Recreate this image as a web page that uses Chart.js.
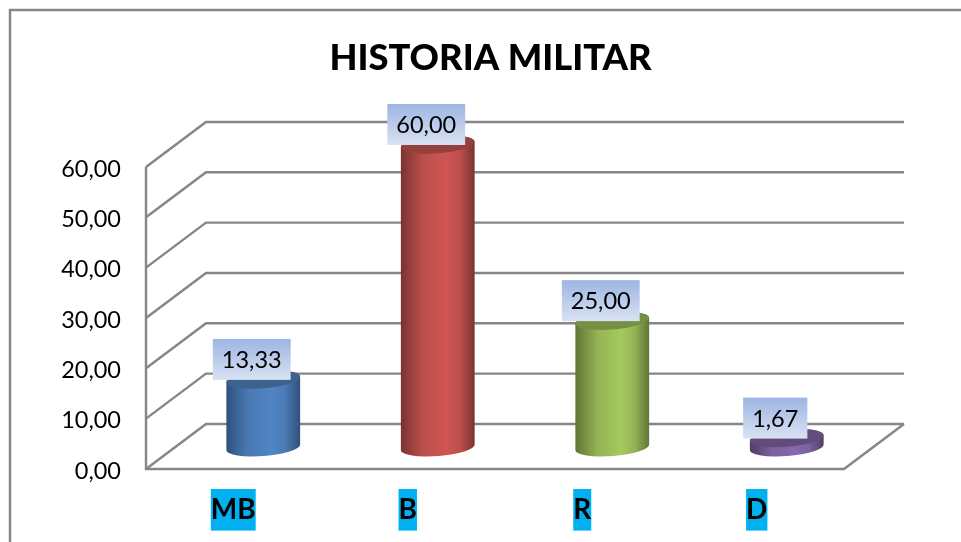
<!DOCTYPE html>
<html>
<head>
<meta charset="utf-8">
<style>html,body{margin:0;padding:0;background:#fff}#wrap{width:961px;height:542px}canvas{display:block}</style>
<script src="https://cdn.jsdelivr.net/npm/chart.js@4"></script>
</head>
<body>
<div id="wrap"><canvas id="c" width="961" height="542"></canvas></div>
<script>
const chartTitle = 'HISTORIA MILITAR';
const categories = ['MB', 'B', 'R', 'D'];
const values = [13.33, 60.00, 25.00, 1.67];
const bodyColors = ['#4A7AB4', '#BC4F4C', '#94B356', '#7C619D'];
const midColors = ['#4F85C4', '#CF5552', '#A5CA5E', '#8869AD'];
const edgeColors = ['#2F5079', '#7A3230', '#5F7634', '#4F3D65'];
const capColors = ['#3D628F', '#94403D', '#778F44', '#624C7C'];
const lineColor = '#868686';
const DEPTH_X = 60, DEPTH_Y = -45;
const fontName = 'Lato, "Open Sans", sans-serif';
const fmt = v => v.toFixed(2).replace('.', ',');

const { BarController, BarElement } = Chart;

class CylinderElement extends BarElement {
  draw(ctx) {
    const { x, y, base, width } = this.getProps(['x', 'y', 'base', 'width']);
    const i = this.$context ? this.$context.dataIndex : 0;
    const cx = x + DEPTH_X / 2, rx = width / 2, ry = 8.8, rot = -4.5 * Math.PI / 180;
    const topY = y + DEPTH_Y / 2, botY = base + DEPTH_Y / 2 + 0.8;
    const g = ctx.createLinearGradient(cx - rx, 0, cx + rx, 0);
    g.addColorStop(0, edgeColors[i]);
    g.addColorStop(0.3, bodyColors[i]);
    g.addColorStop(0.62, midColors[i]);
    g.addColorStop(0.8, bodyColors[i]);
    g.addColorStop(1, edgeColors[i]);
    ctx.save();
    ctx.beginPath();
    ctx.ellipse(cx, botY, rx, ry, rot, 0, Math.PI, false);
    ctx.ellipse(cx, topY, rx, ry, rot, Math.PI, 2 * Math.PI, false);
    ctx.closePath();
    ctx.fillStyle = g;
    ctx.fill();
    ctx.beginPath();
    ctx.ellipse(cx, topY, rx, ry, rot, 0, 2 * Math.PI);
    ctx.fillStyle = capColors[i];
    ctx.fill();
    ctx.restore();
  }
}
CylinderElement.id = 'cylinder';

class CylinderController extends BarController {}
CylinderController.id = 'cylinderBar';
CylinderController.defaults = Object.assign({}, BarController.defaults, { dataElementType: 'cylinder' });
CylinderController.overrides = BarController.overrides;
Chart.register(CylinderElement, CylinderController);

const walls = {
  id: 'walls',
  beforeDraw(chart) {
    const ctx = chart.ctx;
    ctx.save();
    ctx.strokeStyle = lineColor;
    ctx.lineWidth = 2.5;
    ctx.beginPath();
    ctx.moveTo(10, 542); ctx.lineTo(10, 10); ctx.lineTo(961, 10);
    ctx.stroke();
    ctx.restore();
  },
  beforeDatasetsDraw(chart) {
    const ctx = chart.ctx, ys = chart.scales.y, a = chart.chartArea;
    ctx.save();
    ctx.strokeStyle = lineColor;
    ctx.lineWidth = 2.4;
    ctx.lineJoin = 'miter';
    ys.ticks.forEach(t => {
      const py = ys.getPixelForValue(t.value);
      ctx.beginPath();
      ctx.moveTo(a.left, py);
      ctx.lineTo(a.left + DEPTH_X, py + DEPTH_Y);
      ctx.lineTo(a.right + DEPTH_X, py + DEPTH_Y);
      ctx.stroke();
    });
    ctx.beginPath();
    ctx.moveTo(a.left, a.top); ctx.lineTo(a.left, a.bottom); ctx.lineTo(a.right, a.bottom);
    ctx.lineTo(a.right + DEPTH_X, a.bottom + DEPTH_Y);
    ctx.stroke();
    ctx.restore();
  },
  afterLayout(chart) {
    const t = chart.titleBlock;
    if (t) { t.left = 0; t.right = 981; }
  },
  afterDatasetsDraw(chart) {
    const ctx = chart.ctx, meta = chart.getDatasetMeta(0);
    ctx.save();
    ctx.font = '23.5px ' + fontName;
    ctx.textAlign = 'center';
    ctx.textBaseline = 'middle';
    meta.data.forEach((bar, i) => {
      const text = fmt(values[i]);
      const w = ctx.measureText(text).width + 18, h = 41;
      const cx = bar.x + DEPTH_X / 2 - 11.5, cy = bar.y + DEPTH_Y / 2 - 20;
      const g = ctx.createLinearGradient(0, cy - h / 2, 0, cy + h / 2);
      g.addColorStop(0, '#9DB5E2');
      g.addColorStop(1, '#D9E2F3');
      ctx.fillStyle = g;
      ctx.fillRect(cx - w / 2, cy - h / 2, w, h);
      ctx.fillStyle = '#000';
      ctx.fillText(text, cx, cy + 1);
    });
    ctx.restore();
  }
};

new Chart(document.getElementById('c'), {
  type: 'cylinderBar',
  data: {
    labels: categories,
    datasets: [{ data: values, clip: false, barPercentage: 1, categoryPercentage: 0.424, backgroundColor: bodyColors }]
  },
  options: {
    responsive: false,
    animation: false,
    layout: { padding: { left: 0, right: 117, top: 0, bottom: 0 } },
    plugins: {
      legend: { display: false },
      tooltip: { enabled: false },
      title: {
        display: true,
        text: chartTitle,
        color: '#000',
        font: { family: fontName, size: 36.3, weight: '900', lineHeight: 1.2 },
        padding: { top: 36.5, bottom: 86.9 }
      }
    },
    scales: {
      x: {
        type: 'category',
        grid: { display: false, drawTicks: false },
        border: { display: false },
        afterFit(s) { s.height = 73; },
        ticks: {
          color: '#000',
          font: { family: fontName, size: 28, weight: 'bold' },
          padding: 24,
          maxRotation: 0,
          showLabelBackdrop: true,
          backdropColor: '#00B0F0',
          backdropPadding: { top: 4, bottom: 4, left: 0, right: 0 }
        }
      },
      y: {
        type: 'linear',
        min: 0,
        max: 60,
        grid: { display: false, drawTicks: false },
        border: { display: false },
        afterFit(s) { s.width = 146; },
        ticks: {
          stepSize: 10,
          color: '#000',
          font: { family: fontName, size: 23.5 },
          padding: 25,
          labelOffset: 2,
          callback: v => fmt(v)
        }
      }
    }
  },
  plugins: [walls]
});
</script>
</body>
</html>
